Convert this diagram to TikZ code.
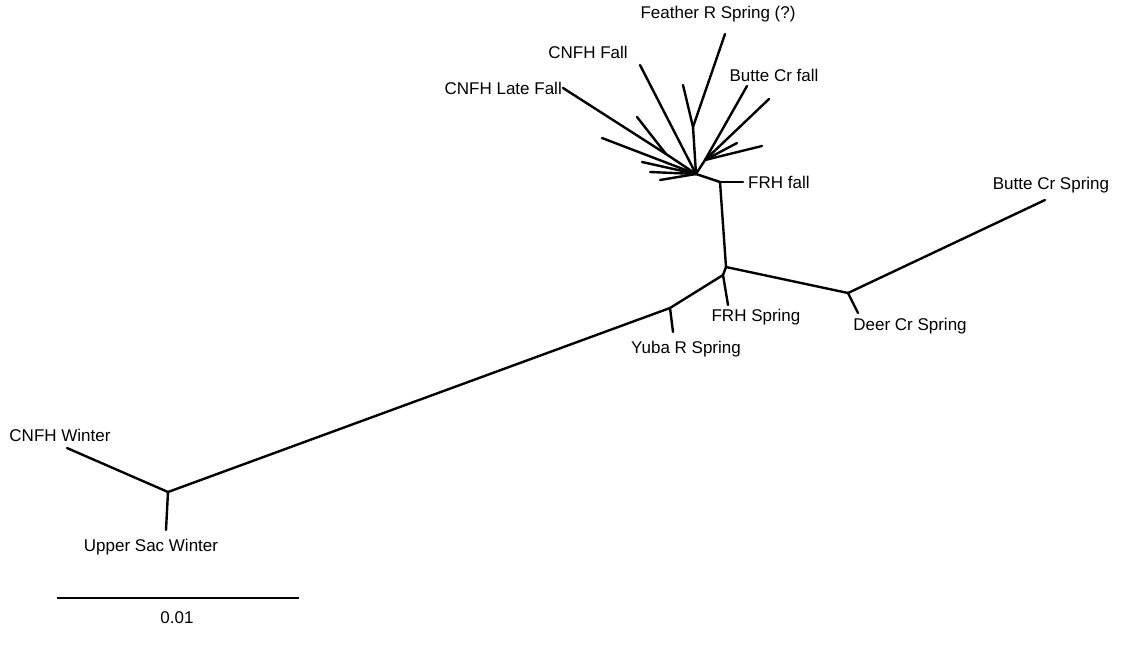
\documentclass[tikz,border=0pt]{standalone}
\usepackage{fontspec}
\setmainfont{Liberation Sans}
\begin{document}
\begin{tikzpicture}[
  x=1pt, y=-1pt,
  taxon/.style={font=\fontsize{17}{20}\selectfont, inner sep=0pt},
  branch/.style={line width=2.4pt, draw=black, line cap=round, line join=round}
]
  \useasboundingbox (0,0) rectangle (1123,653);

  % Nodos internos del árbol
  \coordinate (w)  at (168,492);
  \coordinate (y)  at (670,308);
  \coordinate (b)  at (723,275);
  \coordinate (a)  at (726,267);
  \coordinate (dc) at (848,293);
  \coordinate (e)  at (720,182);
  \coordinate (c)  at (696,174);
  \coordinate (d)  at (705,160);
  \coordinate (f)  at (693,127);
  \coordinate (g)  at (666,154);

  % Extremos de las hojas
  \coordinate (lcw)  at (67,448);
  \coordinate (lusw) at (166,530);
  \coordinate (lyr)  at (673,332);
  \coordinate (lfs)  at (728,305);
  \coordinate (ldc)  at (858,313);
  \coordinate (lbs)  at (1045,200);
  \coordinate (lff)  at (743,182);
  \coordinate (lbf)  at (747,86);
  \coordinate (ld2)  at (769,99);
  \coordinate (ld3)  at (762,146);
  \coordinate (ld4)  at (737,143);
  \coordinate (lfr)  at (725,34);
  \coordinate (lf2)  at (683,85);
  \coordinate (lcf)  at (640,65);
  \coordinate (llf)  at (563,88);
  \coordinate (lg2)  at (637,117);
  \coordinate (lc1)  at (602,138);
  \coordinate (lc2)  at (642,162);
  \coordinate (lc3)  at (650,172);
  \coordinate (lc4)  at (660,180);

  % Etiquetas
  \node[taxon] (tfr)  at (718,14)  {Feather R Spring (?)};
  \node[taxon] (tcf)  at (588,52)  {CNFH Fall};
  \node[taxon] (tbf)  at (774,75)  {Butte Cr fall};
  \node[taxon, anchor=east] (tlf) at (562,88) {CNFH Late Fall};
  \node[taxon, anchor=west] (tff) at (748,182) {FRH fall};
  \node[taxon] (tbs)  at (1051,185) {Butte Cr Spring};
  \node[taxon] (tfs)  at (756,317) {FRH Spring};
  \node[taxon] (tdc)  at (910,326) {Deer Cr Spring};
  \node[taxon] (tyr)  at (686,349) {Yuba R Spring};
  \node[taxon] (tcw)  at (60,435)  {CNFH Winter};
  \node[taxon] (tusw) at (151,547) {Upper Sac Winter};

  % Ramas principales
  \draw[branch] (lcw) -- (w);
  \draw[branch] (lusw) -- (w);
  \draw[branch] (w) -- (y);
  \draw[branch] (y) -- (lyr);
  \draw[branch] (y) -- (b);
  \draw[branch] (b) -- (lfs);
  \draw[branch] (b) -- (a);
  \draw[branch] (a) -- (dc);
  \draw[branch] (dc) -- (ldc);
  \draw[branch] (dc) -- (lbs);
  \draw[branch] (a) -- (e);
  \draw[branch] (e) -- (lff);
  \draw[branch] (e) -- (c);

  % Grupo de otoño
  \draw[branch] (c) -- (d);
  \draw[branch] (d) -- (lbf);
  \draw[branch] (d) -- (ld2);
  \draw[branch] (d) -- (ld3);
  \draw[branch] (d) -- (ld4);
  \draw[branch] (c) -- (f);
  \draw[branch] (f) -- (lfr);
  \draw[branch] (f) -- (lf2);
  \draw[branch] (c) -- (lcf);
  \draw[branch] (c) -- (g);
  \draw[branch] (g) -- (llf);
  \draw[branch] (g) -- (lg2);
  \draw[branch] (c) -- (lc1);
  \draw[branch] (c) -- (lc2);
  \draw[branch] (c) -- (lc3);
  \draw[branch] (c) -- (lc4);

  % Escala
  \coordinate (s1) at (57,598);
  \coordinate (s2) at (299,598);
  \draw[line width=2pt] (s1) -- (s2);
  \node[taxon] (tsc) at (177,618) {0.01};

\end{tikzpicture}
\end{document}
